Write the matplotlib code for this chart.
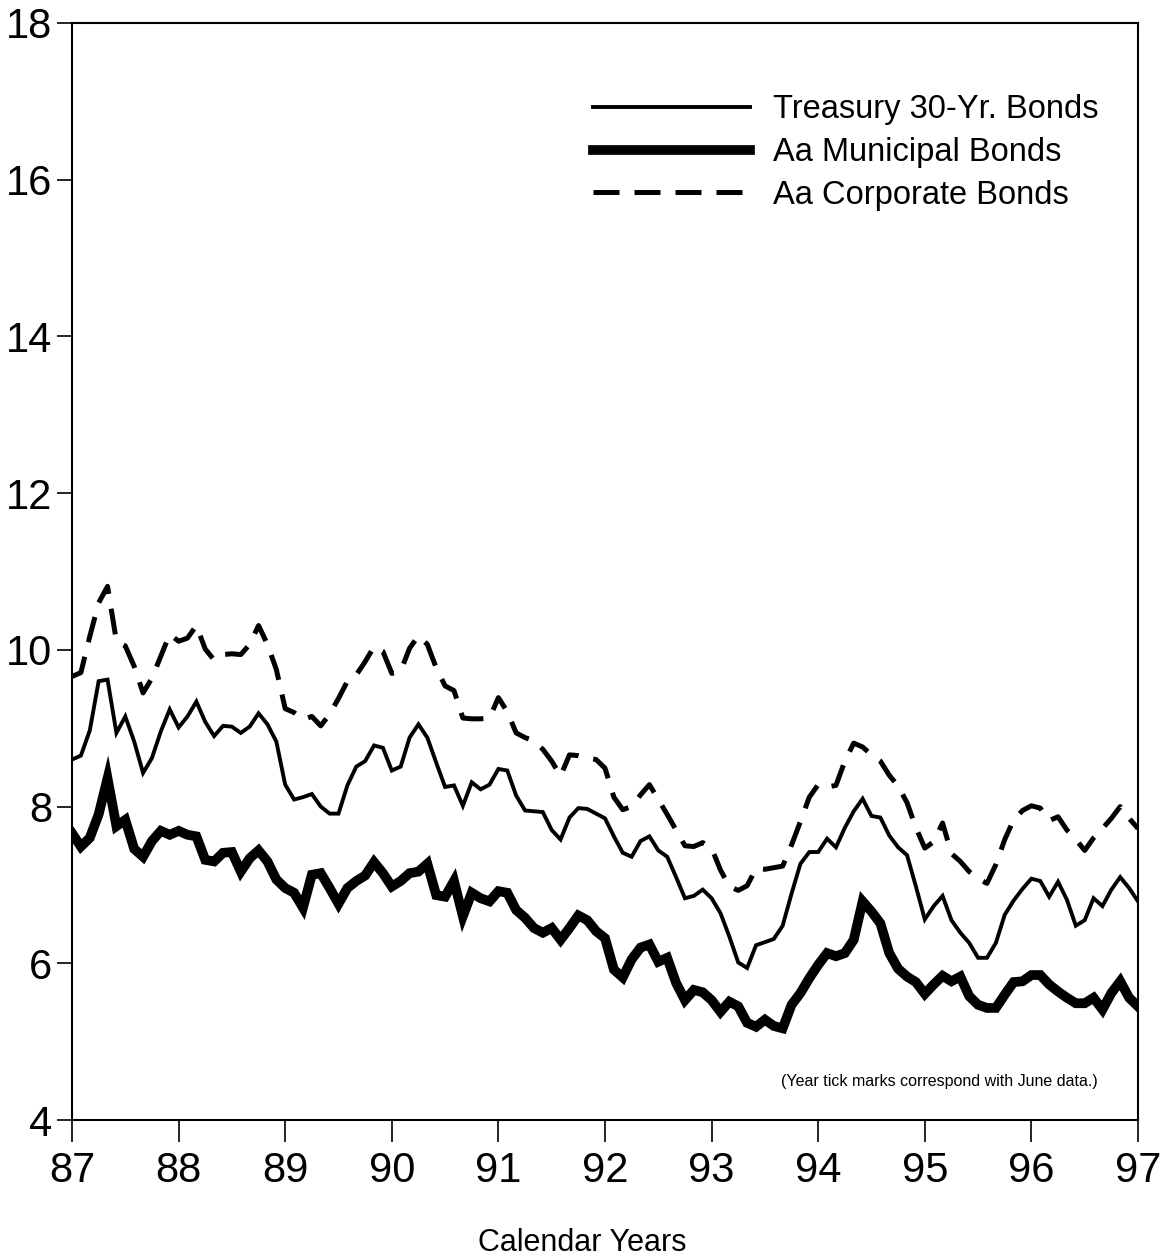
import numpy as np
import matplotlib
matplotlib.use('Agg')
import matplotlib.pyplot as plt

plt.rcParams['font.family'] = ['Liberation Sans', 'DejaVu Sans']

# monthly yields, June 1987 .. June 1997
treasury = [8.60, 8.65, 8.97, 9.60, 9.62, 8.94, 9.15, 8.83, 8.43, 8.62, 8.96, 9.24,
            9.01, 9.15, 9.34, 9.08, 8.90, 9.03, 9.02, 8.94, 9.02, 9.19, 9.05, 8.83,
            8.28, 8.09, 8.12, 8.16, 8.00, 7.91, 7.91, 8.27, 8.51, 8.58, 8.78, 8.75,
            8.46, 8.51, 8.88, 9.05, 8.88, 8.56, 8.25, 8.27, 8.01, 8.31, 8.22, 8.28,
            8.48, 8.46, 8.14, 7.95, 7.94, 7.93, 7.70, 7.58, 7.86, 7.98, 7.97, 7.91,
            7.85, 7.62, 7.41, 7.36, 7.56, 7.62, 7.44, 7.36, 7.10, 6.83, 6.86, 6.94,
            6.83, 6.64, 6.34, 6.01, 5.94, 6.23, 6.27, 6.31, 6.48, 6.89, 7.27, 7.42,
            7.42, 7.59, 7.48, 7.73, 7.94, 8.10, 7.88, 7.86, 7.63, 7.48, 7.38, 6.98,
            6.56, 6.73, 6.86, 6.55, 6.39, 6.26, 6.07, 6.07, 6.26, 6.62, 6.80, 6.95,
            7.08, 7.05, 6.85, 7.04, 6.81, 6.48, 6.55, 6.83, 6.73, 6.94, 7.10, 6.96,
            6.79]
municipal = [7.66, 7.49, 7.60, 7.90, 8.36, 7.75, 7.83, 7.46, 7.36, 7.56, 7.69, 7.64,
             7.69, 7.64, 7.62, 7.32, 7.30, 7.41, 7.42, 7.17, 7.34, 7.44, 7.30, 7.07,
             6.96, 6.90, 6.71, 7.13, 7.15, 6.96, 6.76, 6.96, 7.05, 7.12, 7.29, 7.15,
             6.98, 7.05, 7.15, 7.17, 7.27, 6.87, 6.85, 7.05, 6.60, 6.90, 6.83, 6.79,
             6.92, 6.90, 6.68, 6.58, 6.45, 6.39, 6.45, 6.30, 6.45, 6.61, 6.55, 6.41,
             6.32, 5.92, 5.82, 6.05, 6.20, 6.24, 6.02, 6.07, 5.75, 5.53, 5.66, 5.63,
             5.53, 5.38, 5.51, 5.45, 5.24, 5.19, 5.28, 5.20, 5.17, 5.47, 5.62, 5.81,
             5.98, 6.13, 6.09, 6.13, 6.30, 6.79, 6.66, 6.51, 6.13, 5.93, 5.83, 5.76,
             5.61, 5.73, 5.84, 5.77, 5.83, 5.58, 5.47, 5.43, 5.43, 5.60, 5.76, 5.77,
             5.85, 5.85, 5.73, 5.64, 5.56, 5.49, 5.49, 5.56, 5.41, 5.62, 5.77, 5.56,
             5.45]
corporate = [9.66, 9.71, 10.17, 10.60, 10.81, 10.11, 10.05, 9.79, 9.45, 9.64, 9.92, 10.20,
             10.11, 10.15, 10.31, 10.01, 9.87, 9.94, 9.95, 9.94, 10.07, 10.31, 10.07, 9.75,
             9.25, 9.20, 9.11, 9.15, 9.03, 9.18, 9.38, 9.60, 9.68, 9.85, 10.04, 9.98,
             9.70, 9.73, 10.02, 10.18, 10.07, 9.77, 9.54, 9.48, 9.13, 9.12, 9.12, 9.13,
             9.39, 9.21, 8.94, 8.88, 8.84, 8.73, 8.58, 8.39, 8.66, 8.65, 8.62, 8.60,
             8.49, 8.12, 7.96, 8.00, 8.15, 8.28, 8.09, 7.90, 7.70, 7.50, 7.49, 7.54,
             7.47, 7.19, 6.98, 6.93, 6.99, 7.21, 7.20, 7.22, 7.24, 7.51, 7.81, 8.12,
             8.28, 8.25, 8.27, 8.58, 8.81, 8.76, 8.66, 8.58, 8.40, 8.26, 8.05, 7.73,
             7.47, 7.55, 7.79, 7.40, 7.30, 7.17, 7.08, 7.02, 7.26, 7.58, 7.83, 7.95,
             8.01, 7.98, 7.82, 7.87, 7.70, 7.58, 7.44, 7.60, 7.72, 7.85, 8.00, 7.85,
             7.72]
years = np.arange(87, 98)
months = 87 + np.arange(len(treasury)) / 12.0

fig = plt.figure(figsize=(11.66, 12.6), dpi=100)
ax = fig.add_axes([72/1166, 1-1120/1260, (1138-72)/1166, (1120-23)/1260])

ax.plot(months, treasury, color='black', lw=2.8, solid_joinstyle='miter', label='Treasury 30-Yr. Bonds')
ax.plot(months, municipal, color='black', lw=7, solid_joinstyle='miter', label='Aa Municipal Bonds')
ax.plot(months, corporate, color='black', lw=3.6, linestyle=(0, (5.2, 3.0)), dash_capstyle='butt',
        label='Aa Corporate Bonds')

ax.set_xlim(87, 97)
ax.set_ylim(4, 18)
ax.set_xticks(years)
ax.set_xticklabels([str(y) for y in years])
ax.set_yticks(np.arange(4, 19, 2))
ax.tick_params(axis='x', direction='out', length=16, width=1.2, pad=6, labelsize=30)
ax.tick_params(axis='y', direction='out', length=11, width=1.2, pad=3, labelsize=30)
for s in ax.spines.values():
    s.set_linewidth(1.5)

ax.legend(loc='upper left', bbox_to_anchor=(0.489, 0.935), frameon=False, fontsize=23.5,
          handlelength=4.8, handletextpad=0.7, labelspacing=0.36, borderpad=0, borderaxespad=0)

ax.text(0.814, 0.035, '(Year tick marks correspond with June data.)', transform=ax.transAxes,
        ha='center', va='center', fontsize=11.5)
fig.text(582/1166, 1-1243/1260, 'Calendar Years', ha='center', va='center', fontsize=22)

plt.savefig('out.png', dpi=100)
